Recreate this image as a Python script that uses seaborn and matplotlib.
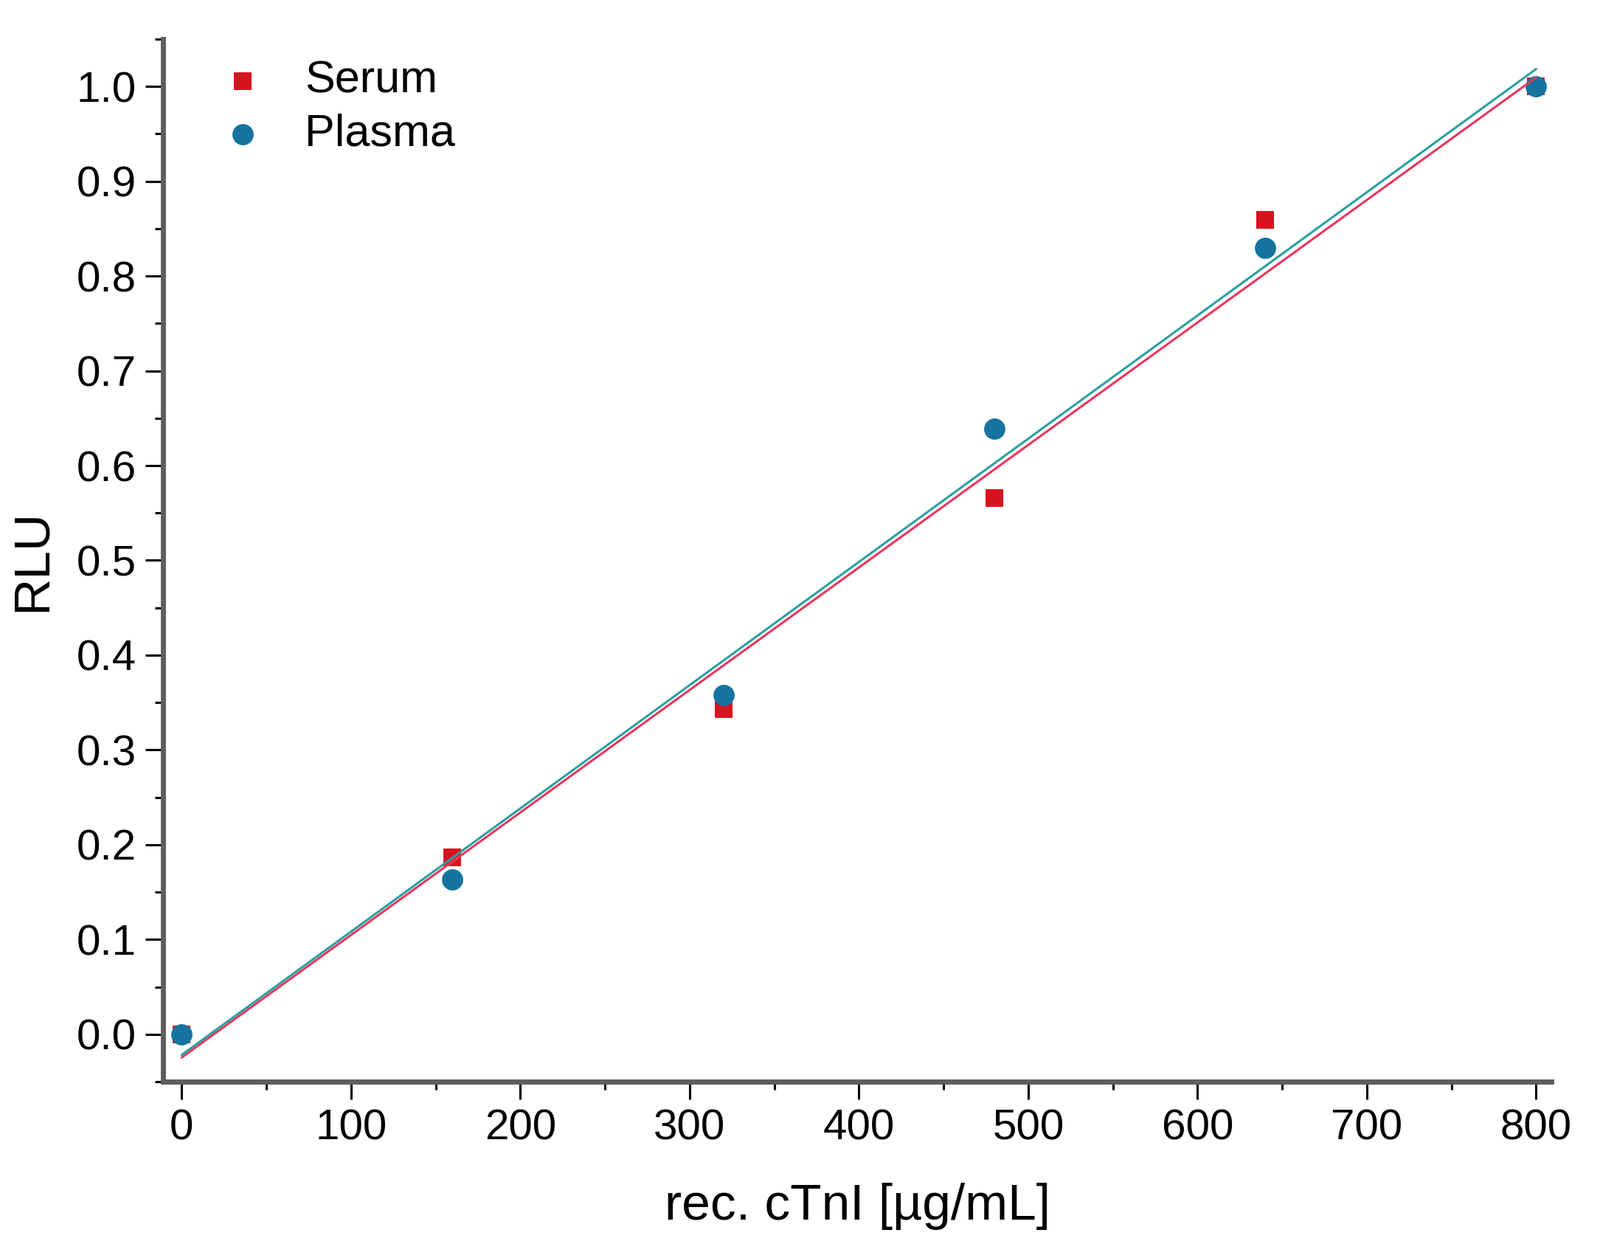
import pandas as pd
import seaborn as sns
import matplotlib.pyplot as plt
from matplotlib.ticker import MultipleLocator

# concentrations of rec. cTnI and normalised RLU
conc = [0, 160, 320, 480, 640, 800]
serum_rlu = [0.0, 0.187, 0.343, 0.566, 0.859, 1.0]
plasma_rlu = [0.0, 0.163, 0.358, 0.639, 0.830, 1.0]
groups = ['Serum', 'Plasma']

df = pd.DataFrame({
    'conc': conc * 2,
    'rlu': serum_rlu + plasma_rlu,
    'sample': ['Serum'] * len(conc) + ['Plasma'] * len(conc),
})

sns.set_style('ticks')
plt.rcParams['font.family'] = ['Liberation Sans', 'DejaVu Sans']
plt.rcParams['text.color'] = 'black'
plt.rcParams['axes.labelcolor'] = 'black'
plt.rcParams['xtick.color'] = 'black'
plt.rcParams['ytick.color'] = 'black'

marker_colors = {'Serum': '#d9121f', 'Plasma': '#14749f'}
line_colors = {'Serum': '#e8365d', 'Plasma': '#2a9fa0'}
marker_shapes = {'Serum': 's', 'Plasma': 'o'}
marker_sizes = {'Serum': 300, 'Plasma': 430}

fig = plt.figure(figsize=(21.69, 17.05), dpi=100)
ax = fig.add_axes([0.1019, 0.1402, 0.8677, 0.8287])

for g in groups:
    sub = df[df['sample'] == g]
    sns.scatterplot(data=sub, x='conc', y='rlu', ax=ax, color=marker_colors[g],
                    marker=marker_shapes[g], s=marker_sizes[g], linewidth=0,
                    label=g, zorder=3)

# linear fits drawn over the points
for g in groups:
    sub = df[df['sample'] == g]
    sns.regplot(data=sub, x='conc', y='rlu', ax=ax, scatter=False, ci=None,
                color=line_colors[g], line_kws={'linewidth': 2.2, 'zorder': 4})

ax.set_xlim(-11, 809)
ax.set_ylim(-0.05, 1.05)
ax.xaxis.set_major_locator(MultipleLocator(100))
ax.xaxis.set_minor_locator(MultipleLocator(50))
ax.yaxis.set_major_locator(MultipleLocator(0.1))
ax.yaxis.set_minor_locator(MultipleLocator(0.05))
ax.yaxis.set_major_formatter(plt.FuncFormatter(lambda v, p: f'{v:.1f}'))

for side in ['top', 'right']:
    ax.spines[side].set_visible(False)
for side in ['left', 'bottom']:
    ax.spines[side].set_linewidth(5)
    ax.spines[side].set_color('#5e5e5e')

ax.tick_params(which='major', length=17, width=2.2, color='black',
               labelsize=42, pad=9, direction='out', labelcolor='black')
ax.tick_params(which='minor', length=8, width=2.2, color='black', direction='out')

ax.set_xlabel('rec. cTnI [µg/mL]', fontsize=50, color='black')
ax.set_ylabel('RLU', fontsize=50, color='black')
ax.xaxis.set_label_coords(0.5, -0.097)
ax.yaxis.set_label_coords(-0.077, 0.5)

leg = ax.legend(loc='upper left', bbox_to_anchor=(0.012, 0.997), frameon=False,
                fontsize=44, handletextpad=0.38, labelspacing=0.25, borderaxespad=0,
                markerscale=1.0)
for t in leg.get_texts():
    t.set_color('black')

fig.savefig('out.png', dpi=100)
